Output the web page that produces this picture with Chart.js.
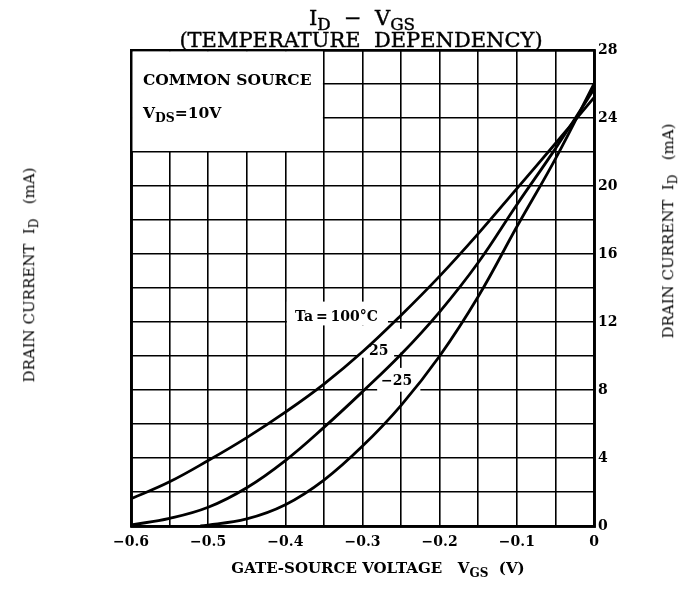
<!DOCTYPE html>
<html>
<head>
<meta charset="utf-8">
<script src="https://cdn.jsdelivr.net/npm/chart.js@4.4.0/dist/chart.umd.min.js"></script>
<style>
  body { margin: 0; background: #fff; }
  #wrap { position: relative; width: 694px; height: 592px; font-family: 'DejaVu Serif', serif; color: #000; }
  #chart { position: absolute; left: 0; top: 0; }
  .t { position: absolute; white-space: nowrap; line-height: 1; }
  .sub { font-size: 0.8em; vertical-align: -0.3em; }
  .b { font-weight: bold; }
  .h { -webkit-text-stroke: 0.4px #000; }
</style>
</head>
<body>
<div id="wrap">
  <canvas id="chart" width="694" height="592"></canvas>
  <div class="t h" style="left:362px;top:8px;transform:translateX(-50%);font-size:21px">I<span class="sub">D</span> &nbsp;&minus;&nbsp; V<span class="sub">GS</span></div>
  <div class="t h" style="left:361px;top:30px;transform:translateX(-50%);font-size:21px">(TEMPERATURE&nbsp; DEPENDENCY)</div>
  <div class="t b" style="left:143px;top:72px;font-size:15.5px">COMMON SOURCE</div>
  <div class="t b" style="left:143px;top:105px;font-size:15.5px">V<span class="sub">DS</span>=10V</div>
  <div class="t b" style="left:295px;top:309px;font-size:14px">Ta&thinsp;=&thinsp;100&deg;C</div>
  <div class="t b" style="left:369px;top:343px;font-size:14px">25</div>
  <div class="t b" style="left:381px;top:373px;font-size:14px">&minus;25</div>
  <div class="t b" style="left:378px;top:561px;transform:translateX(-50%);font-size:15px">GATE-SOURCE VOLTAGE &nbsp; V<span class="sub">GS</span> &nbsp;(V)</div>
  <div class="t" style="left:31px;top:275px;transform:translate(-50%,-50%) rotate(-90deg);font-size:15px">DRAIN CURRENT &nbsp;I<span class="sub">D</span> &nbsp;&nbsp;(mA)</div>
  <div class="t" style="left:670px;top:231px;transform:translate(-50%,-50%) rotate(-90deg);font-size:15px">DRAIN CURRENT &nbsp;I<span class="sub">D</span> &nbsp;&nbsp;(mA)</div>
</div>
<script>
// gate-source voltage (V) and drain current (mA)
const vgs = [-0.6, -0.55, -0.5, -0.45, -0.4, -0.35, -0.3, -0.25, -0.2, -0.15, -0.1, -0.05, 0];
const id100 = [1.6, 2.6, 3.85, 5.2, 6.7, 8.35, 10.25, 12.4, 14.7, 17.2, 19.85, 22.5, 25.2];
const id25 = [0.06, 0.45, 1.1, 2.25, 3.85, 5.8, 7.9, 10.1, 12.6, 15.5, 18.9, 22.2, 25.7];
const vgsM25 = [-0.51, -0.45, -0.4, -0.35, -0.3, -0.25, -0.2, -0.15, -0.1, -0.05, 0];
const idM25 = [0, 0.42, 1.25, 2.7, 4.7, 7.1, 10.0, 13.5, 17.6, 21.6, 26.0];
const xTicks = [-0.6, -0.5, -0.4, -0.3, -0.2, -0.1, 0];
const yTicks = [0, 4, 8, 12, 16, 20, 24, 28];

const pts = (xs, ys) => xs.map((x, i) => ({x, y: ys[i]}));
const curve = data => ({
  data, showLine: true, pointRadius: 0, borderColor: '#000', borderWidth: 2.8,
  tension: 0.4, fill: false, yAxisID: 'y'
});

// white areas: the condition box and the gaps behind the curve labels
const whiteOut = {
  id: 'whiteOut',
  beforeDatasetsDraw(chart) {
    const {ctx, scales: {x, y}} = chart;
    const rect = (x0, x1, y0, y1) => {
      const l = x.getPixelForValue(x0), r = x.getPixelForValue(x1);
      const t = y.getPixelForValue(y1), b = y.getPixelForValue(y0);
      ctx.fillRect(l, t, r - l, b - t);
    };
    ctx.save();
    ctx.fillStyle = '#fff';
    const l = x.getPixelForValue(-0.6) + 1.5, r = x.getPixelForValue(-0.35) - 1;
    const t = y.getPixelForValue(28) + 1.5, b = y.getPixelForValue(22) - 1;
    ctx.fillRect(l, t, r - l, b - t);
    rect(-0.398, -0.267, 11.8, 13.2);
    rect(-0.306, -0.259, 9.9, 11.8);
    rect(-0.259, -0.246, 10.2, 11.6);
    rect(-0.281, -0.225, 7.9, 9.3);
    ctx.restore();
  }
};

const tickFont = {family: 'DejaVu Serif', weight: 'bold', size: 14};
const edge = n => c => (c.index === 0 || c.index === n) ? 2.8 : 1.6;

new Chart(document.getElementById('chart'), {
  type: 'scatter',
  data: {
    datasets: [curve(pts(vgs, id100)), curve(pts(vgs, id25)), curve(pts(vgsM25, idM25))]
  },
  options: {
    responsive: false,
    animation: false,
    layout: {padding: {top: 50}},
    plugins: {legend: {display: false}, tooltip: {enabled: false}},
    scales: {
      x: {
        type: 'linear', min: -0.6, max: 0,
        afterFit: s => { s.height = 66; },
        ticks: {
          stepSize: 0.05, autoSkip: false, maxRotation: 0, padding: 8, color: '#000', font: tickFont,
          callback: v => {
            const t = xTicks.find(a => Math.abs(a - v) < 1e-6);
            if (t === undefined) return '';
            return t === 0 ? '0' : '\u2212' + Math.abs(t).toFixed(1);
          }
        },
        grid: {color: '#000', lineWidth: edge(12), drawTicks: false},
        border: {color: '#000', width: 2.8}
      },
      y: {
        position: 'right', min: 0, max: 28,
        afterFit: s => { s.width = 100; },
        ticks: {
          stepSize: 2, autoSkip: false, padding: 4, color: '#000', font: tickFont,
          callback: v => yTicks.includes(Math.round(v)) ? String(Math.round(v)) : ''
        },
        grid: {color: '#000', lineWidth: edge(14), drawTicks: false},
        border: {color: '#000', width: 2.8}
      },
      yl: {
        position: 'left', min: 0, max: 28,
        afterFit: s => { s.width = 131; },
        ticks: {display: false},
        grid: {display: false},
        border: {color: '#000', width: 2.8}
      }
    }
  },
  plugins: [whiteOut]
});
</script>
</body>
</html>
